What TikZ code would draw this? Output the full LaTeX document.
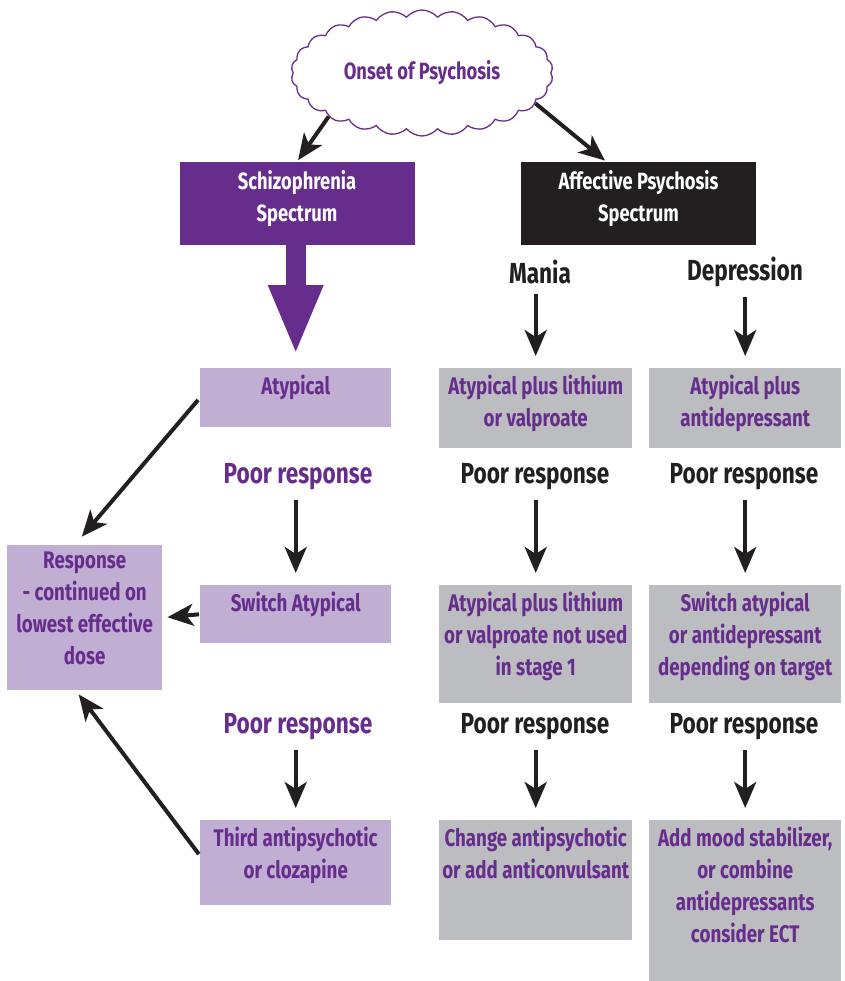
\documentclass[tikz,border=0pt]{standalone}
\usepackage{fontspec}
\setmainfont{Fira Sans}[FakeStretch=0.78]
\usepackage{tikz}
\usetikzlibrary{shapes.symbols,arrows.meta}
\definecolor{psypurple}{HTML}{662D8C}
\definecolor{psylav}{HTML}{C1AED3}
\definecolor{psygray}{HTML}{BCBDC0}
\definecolor{psyblack}{HTML}{231F20}
\tikzset{
  boxtext/.style={font=\bfseries\fontsize{24}{32}\selectfont, text=psypurple, align=center, inner sep=0pt},
  headtext/.style={font=\bfseries\fontsize{23.5}{32}\selectfont, align=center, inner sep=0pt},
  bigtext/.style={font=\bfseries\fontsize{29}{32}\selectfont, inner sep=0pt},
  arr/.style={psyblack, line width=4pt, -{Stealth[length=26pt, width=22pt, inset=7pt]}},
}
\newcommand{\psybox}[6] {\node at (#1) (#2) [rectangle, fill=#3, anchor=north west, minimum width=#4, minimum height=#5, inner sep=0pt] {};
  \node at (#2.north) (#2t) [anchor=north, yshift=-7pt, boxtext] {#6};}
\newcommand{\psyhead}[4] {\node at (#1) (#2) [rectangle, fill=#3, minimum width=235pt, minimum height=83pt, inner sep=0pt] {};
  \node at (#2.center) (#2t) [yshift=5pt, headtext, text=white] {#4};}
\newcommand{\psylabel}[4] {\node at (#1) (#2) [bigtext, text=#3] {#4};}
\newcommand{\psystep}[2] {\draw [arr, shorten <=10pt, shorten >=12pt] (#2.north |- #1.south) -- (#2.north);}

\begin{document}
\begin{tikzpicture}[x=1pt, y=-1pt]
\useasboundingbox (0,0) rectangle (844,981);

\node at (422,73) (onset) [cloud, cloud puffs=26, cloud puff arc=100, aspect=2.1, draw=psypurple, line width=1.3pt, minimum width=262pt, minimum height=126pt, headtext, text=psypurple] {Onset of Psychosis};
\psyhead {297,203.5}{schizo}{psypurple}{Schizophrenia\\Spectrum}
\psyhead {638.5,203.5}{affect}{psyblack}{Affective Psychosis\\Spectrum}
\psylabel {540,272}{mania}{psyblack}{Mania}
\psylabel {745,272}{depr}{psyblack}{Depression}

\psybox {200,368}{atyp}{psylav}{191pt}{59pt}{Atypical}
\psybox {439,368}{maniaone}{psygray}{193pt}{80pt}{Atypical plus lithium\\or valproate}
\psybox {649,368}{deprone}{psygray}{192pt}{80pt}{Atypical plus\\antidepressant}
\psylabel {298,477}{poorschone}{psypurple}{Poor response}
\psylabel {535,477}{poormanone}{psyblack}{Poor response}
\psylabel {744,477}{poordepone}{psyblack}{Poor response}

\psybox {7,545}{resp}{psylav}{155pt}{145pt}{Response\\- continued on\\lowest effective\\dose}
\psybox {200,585}{switch}{psylav}{191pt}{58pt}{Switch Atypical}
\psybox {439,585}{maniatwo}{psygray}{193pt}{118pt}{Atypical plus lithium\\or valproate not used\\in stage 1}
\psybox {649,585}{deprtwo}{psygray}{192pt}{118pt}{Switch atypical\\or antidepressant\\depending on target}
\psylabel {298,727}{poorschtwo}{psypurple}{Poor response}
\psylabel {535,727}{poormantwo}{psyblack}{Poor response}
\psylabel {744,727}{poordeptwo}{psyblack}{Poor response}

\psybox {200,820}{third}{psylav}{191pt}{85pt}{Third antipsychotic\\or clozapine}
\psybox {439,820}{maniathree}{psygray}{193pt}{120pt}{Change antipsychotic\\or add anticonvulsant}
\psybox {649,820}{deprthree}{psygray}{192pt}{161pt}{Add mood stabilizer,\\or combine\\antidepressants\\consider ECT}

% from the cloud to the two spectra
\draw [arr, shorten >=2pt] (onset.205) -- (schizo.north);
\draw [arr, shorten >=2pt] (onset.345) -- ([xshift=-32pt]affect.north);
\draw [psypurple, line width=20pt, -{Triangle[length=70pt, width=50pt]}, shorten >=13pt] (atyp.north |- schizo.south) -- (atyp.north);

\psystep {mania}{maniaone}
\psystep {depr}{deprone}
\psystep {poorschone}{switch}
\psystep {poormanone}{maniatwo}
\psystep {poordepone}{deprtwo}
\psystep {poorschtwo}{third}
\psystep {poormantwo}{maniathree}
\psystep {poordeptwo}{deprthree}

% back to the response box
\draw [arr, shorten <=3pt, shorten >=11pt] (atyp.west) -- ([xshift=-10pt]resp.north);
\draw [arr, shorten <=1pt, shorten >=5pt] (switch.west) -- (resp.east);
\draw [arr, shorten <=2pt, shorten >=5pt] ([yshift=7pt]third.west) -- ([xshift=-9pt]resp.south);
\end{tikzpicture}
\end{document}
